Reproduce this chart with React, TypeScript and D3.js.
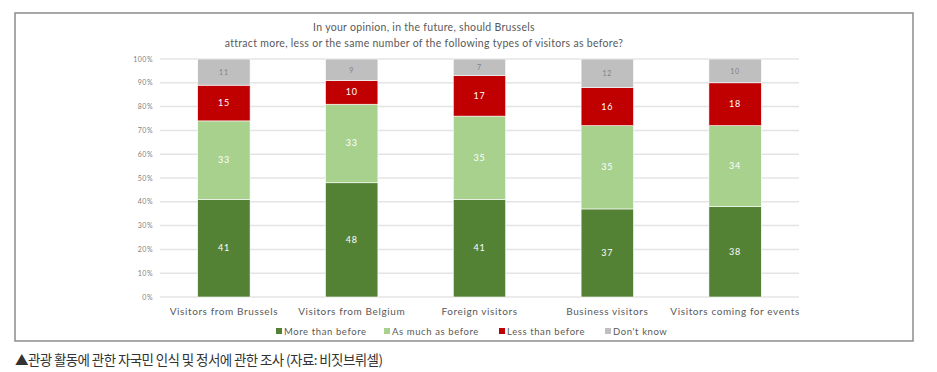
import React, { useEffect, useRef } from 'react';
import * as d3 from 'd3';

const categories = [
  'Visitors from Brussels',
  'Visitors from Belgium',
  'Foreign visitors',
  'Business visitors',
  'Visitors coming for events',
];
const seriesNames = ['More than before', 'As much as before', 'Less than before', "Don't know"];
const moreThanBefore = [41, 48, 41, 37, 38];
const asMuchAsBefore = [33, 33, 35, 35, 34];
const lessThanBefore = [15, 10, 17, 16, 18];
const dontKnow = [11, 9, 7, 12, 10];
const yTicks = [0, 10, 20, 30, 40, 50, 60, 70, 80, 90, 100];

const colors = ['#548235', '#a9d18e', '#c00000', '#bfbfbf'];
const labelColors = ['#ffffff', '#ffffff', '#ffffff', '#7f7f7f'];
const FONT = 'Lato, "DejaVu Sans", sans-serif';

const App = () => {
  const ref = useRef<SVGSVGElement>(null);

  useEffect(() => {
    if (!ref.current) return;
    const svg = d3.select(ref.current);
    svg.selectAll('*').remove();

    // 표 형태로 묶기
    const rows = categories.map((c, i) => ({
      cat: c,
      s0: moreThanBefore[i],
      s1: asMuchAsBefore[i],
      s2: lessThanBefore[i],
      s3: dontKnow[i],
    }));
    const keys = ['s0', 's1', 's2', 's3'];
    const stacked = d3.stack<any>().keys(keys)(rows);

    const x = d3.scaleBand().domain(categories).range([160, 799]).paddingInner(0.59).paddingOuter(0.295);
    const y = d3.scaleLinear().domain([0, 100]).range([297, 59]);

    // 외곽 박스
    svg.append('rect')
      .attr('x', 15).attr('y', 13).attr('width', 898).attr('height', 328)
      .attr('fill', 'white').attr('stroke', '#8c8c8c').attr('stroke-width', 1.5);

    // 제목
    const title = svg.append('text')
      .attr('text-anchor', 'middle').attr('font-family', FONT).attr('font-size', 10.5)
      .attr('fill', '#595959').attr('letter-spacing', 0.3);
    title.append('tspan').attr('x', 424).attr('y', 31).text('In your opinion, in the future, should Brussels');
    title.append('tspan').attr('x', 424).attr('y', 47).text('attract more, less or the same number of the following types of visitors as before?');

    // 격자선
    svg.append('g').selectAll('line').data(yTicks).enter().append('line')
      .attr('x1', 160).attr('x2', 799)
      .attr('y1', d => y(d)).attr('y2', d => y(d))
      .attr('stroke', '#e4e4e4').attr('stroke-width', 1.5);

    svg.append('g').selectAll('text').data(yTicks).enter().append('text')
      .attr('x', 153).attr('y', d => y(d) + 2.5)
      .attr('text-anchor', 'end').attr('font-family', FONT).attr('font-size', 7)
      .attr('fill', '#7f7f7f').attr('letter-spacing', 0.5)
      .text(d => d + '%');

    // 막대
    stacked.forEach((layer, k) => {
      const g = svg.append('g');
      g.selectAll('rect').data(layer).enter().append('rect')
        .attr('x', d => x(d.data.cat) as number)
        .attr('width', x.bandwidth())
        .attr('y', d => y(d[1]))
        .attr('height', d => y(d[0]) - y(d[1]))
        .attr('fill', colors[k])
        .attr('stroke', 'white').attr('stroke-width', 0.6);
      g.selectAll('text').data(layer).enter().append('text')
        .attr('x', d => (x(d.data.cat) as number) + x.bandwidth() / 2)
        .attr('y', d => y((d[0] + d[1]) / 2) + 3)
        .attr('text-anchor', 'middle').attr('font-family', FONT)
        .attr('font-size', k === 3 ? 7 : 9).attr('letter-spacing', 0.8)
        .attr('fill', labelColors[k])
        .text(d => d[1] - d[0]);
    });

    // 범주 라벨
    svg.append('g').selectAll('text').data(categories).enter().append('text')
      .attr('x', d => (x(d) as number) + x.bandwidth() / 2)
      .attr('y', 315)
      .attr('text-anchor', 'middle').attr('font-family', FONT).attr('font-size', 10)
      .attr('fill', '#595959').attr('letter-spacing', 0.6)
      .text(d => d);

    // 범례
    const legendX = [276, 384, 499, 605];
    const lg = svg.append('g');
    seriesNames.forEach((name, i) => {
      lg.append('rect').attr('x', legendX[i]).attr('y', 328).attr('width', 6).attr('height', 6).attr('fill', colors[i]);
      lg.append('text').attr('x', legendX[i] + 8).attr('y', 335)
        .attr('font-family', FONT).attr('font-size', 9.5).attr('fill', '#595959').attr('letter-spacing', 0.6)
        .text(name);
    });

    // 캡션
    svg.append('text')
      .attr('x', 15).attr('y', 365)
      .attr('font-family', '"Noto Sans CJK KR", sans-serif').attr('font-size', 13.5)
      .attr('fill', '#333333').attr('letter-spacing', -0.6)
      .text('▲관광 활동에 관한 자국민 인식 및 정서에 관한 조사 (자료: 비짓브뤼셀)');
  }, []);

  return (
    <svg ref={ref} width={937} height={372}
      style={{ position: 'absolute', left: 0, top: 0, display: 'block', background: 'white' }} />
  );
};

export default App;
